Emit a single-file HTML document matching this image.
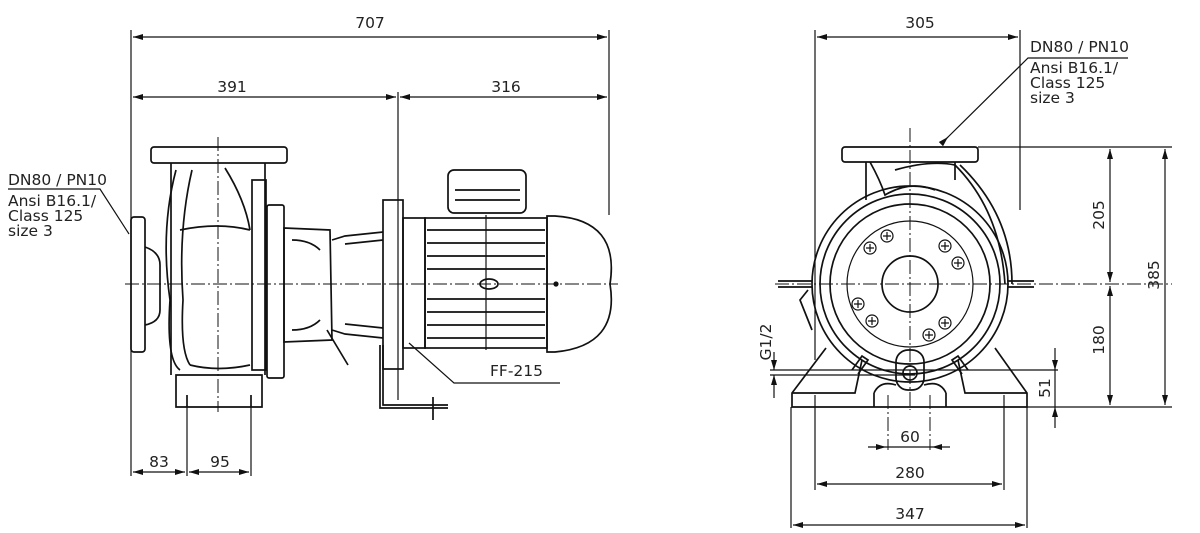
<!DOCTYPE html>
<html><head><meta charset="utf-8"><style>
html,body{margin:0;padding:0;background:#fff;}
svg{display:block}
text{font-family:"DejaVu Sans","Liberation Sans",sans-serif;font-size:15.5px;fill:#222}
</style></head><body>
<svg width="1200" height="533" viewBox="0 0 1200 533" xmlns="http://www.w3.org/2000/svg">
<defs>
<marker id="a" viewBox="0 0 10 6" refX="10" refY="3" markerWidth="14" markerHeight="6" markerUnits="userSpaceOnUse" orient="auto-start-reverse"><path d="M0,0L10,3L0,6z" fill="#111"/></marker>
</defs>
<g stroke="#111" stroke-width="1.2" fill="none">
<!-- LEFT VIEW dims -->
<line x1="131" y1="30" x2="131" y2="476"/>
<line x1="609" y1="30" x2="609" y2="215"/>
<line x1="398" y1="92" x2="398" y2="400"/>
<line x1="133" y1="37" x2="607" y2="37" marker-start="url(#a)" marker-end="url(#a)"/>
<line x1="133" y1="97" x2="396" y2="97" marker-start="url(#a)" marker-end="url(#a)"/>
<line x1="400" y1="97" x2="607" y2="97" marker-start="url(#a)" marker-end="url(#a)"/>
<line x1="187" y1="405" x2="187" y2="476"/>
<line x1="251" y1="405" x2="251" y2="476"/>
<line x1="133" y1="472" x2="185" y2="472" marker-start="url(#a)" marker-end="url(#a)"/>
<line x1="189" y1="472" x2="249" y2="472" marker-start="url(#a)" marker-end="url(#a)"/>
<line x1="125" y1="284" x2="618" y2="284" stroke-dasharray="14,3,2,3" stroke-width="1"/>
<line x1="218" y1="137" x2="218" y2="412" stroke-dasharray="14,3,2,3" stroke-width="1"/>
<g stroke-width="1.7">
<!-- pump -->
<rect x="151" y="147" width="136" height="16" rx="3"/>
<path d="M171,163 L171,375 M265,163 L265,375"/>
<path d="M176,170 Q160,230 170,300 Q166,360 180,370 M192,170 Q178,230 183,300 Q180,350 190,365"/>
<path d="M180,230 Q218,222 250,230 M190,365 Q218,372 250,365 M225,168 Q245,200 250,230"/>
<rect x="131" y="217" width="14" height="135" rx="3"/>
<path d="M145,247 Q160,252 160,265 L160,310 Q160,322 145,325"/>
<path d="M176,375 L262,375 L262,407 L176,407 Z"/>
<line x1="187" y1="395" x2="187" y2="407"/><line x1="251" y1="395" x2="251" y2="407"/>
<rect x="252" y="180" width="14" height="190"/>
<rect x="267" y="205" width="17" height="173" rx="2"/>
<path d="M284,228 L330,230 L332,340 L284,342 Z M292,240 Q310,240 320,250 M292,330 Q310,330 320,320"/>
<path d="M332,240 L345,236 L383,232 M332,330 L345,334 L383,338"/>
<path d="M345,244 L383,240 M345,324 L383,328"/>
<path d="M327,330 L348,365"/>
<rect x="383" y="200" width="20" height="169"/>
<path d="M383,345 L383,405 L448,405 M380,345 L380,408 L448,408"/>
<line x1="433" y1="397" x2="433" y2="420"/>
<rect x="403" y="218" width="22" height="130"/>
<!-- motor -->
<rect x="425" y="218" width="122" height="130"/>
<path d="M427,230h118M427,243h118M427,256h118M427,269h118M427,299h118M427,312h118M427,325h118M427,338h118"/>
<rect x="448" y="170" width="78" height="43" rx="6"/>
<path d="M455,200 L520,200 M455,190 L520,190"/>
<ellipse cx="489" cy="284" rx="9" ry="5"/>
<path d="M547,216 L555,216 Q620,220 610,284 Q620,346 555,352 L547,352 Z"/>
</g>
<line x1="486" y1="215" x2="486" y2="350"/>
<circle cx="556" cy="284" r="2" fill="#111"/>
<path d="M409,343 L454,383 L560,383"/>
<path d="M8,189 L100,189 L129,234"/>
<!-- RIGHT VIEW -->
<line x1="815" y1="30" x2="815" y2="360"/>
<line x1="1020" y1="30" x2="1020" y2="210"/>
<line x1="817" y1="37" x2="1018" y2="37" marker-start="url(#a)" marker-end="url(#a)"/>
<path d="M1128,58 L1028,58 L945,140"/>
<line x1="945" y1="140" x2="948" y2="137" marker-end="url(#a)"/>
<line x1="978" y1="147" x2="1172" y2="147"/>
<line x1="1027" y1="407" x2="1172" y2="407"/>
<line x1="1110" y1="149" x2="1110" y2="282" marker-start="url(#a)" marker-end="url(#a)"/>
<line x1="1110" y1="286" x2="1110" y2="405" marker-start="url(#a)" marker-end="url(#a)"/>
<line x1="1165" y1="149" x2="1165" y2="405" marker-start="url(#a)" marker-end="url(#a)"/>
<line x1="1055" y1="348" x2="1055" y2="370" marker-end="url(#a)"/>
<line x1="1055" y1="428" x2="1055" y2="407" marker-end="url(#a)"/>
<line x1="1055" y1="370" x2="1055" y2="407"/>
<line x1="770" y1="370" x2="1058" y2="370"/>
<line x1="770" y1="375" x2="915" y2="375"/>
<line x1="774" y1="352" x2="774" y2="370" marker-end="url(#a)"/>
<line x1="774" y1="398" x2="774" y2="375" marker-end="url(#a)"/>
<line x1="775" y1="284" x2="1172" y2="284" stroke-dasharray="14,3,2,3" stroke-width="1"/>
<line x1="910" y1="128" x2="910" y2="410" stroke-dasharray="14,3,2,3" stroke-width="1"/>
<g stroke-width="1.7">
<rect x="842" y="147" width="136" height="15" rx="3"/>
<path d="M866,162 L866,200 M955,162 L955,180"/>
<path d="M870,162 Q880,180 885,195 Q910,180 935,190 M895,170 Q930,160 955,165 Q1000,210 1005,284 M960,165 Q1012,215 1012,284"/>
<circle cx="910" cy="284" r="98"/>
<circle cx="910" cy="284" r="90"/>
<circle cx="910" cy="284" r="80"/>
<circle cx="910" cy="284" r="28"/>
<rect x="896" y="350" width="28" height="40" rx="12"/>
<circle cx="910" cy="373" r="7"/>
<path d="M778,287 L812,287 M778,281 L812,281 M1008,281 L1034,281 M1008,287 L1034,287"/>
<path d="M808,290 L800,300 L812,330"/>
<path d="M826,348 L792,393 L792,407 L1027,407 L1027,393 L995,348"/>
<path d="M792,393 L855,393 L862,360 M1027,393 L965,393 L958,360"/>
<path d="M874,393 L874,407 M946,393 L946,407 M874,393 Q880,380 896,385 M946,393 Q940,380 924,385"/>
<path d="M852,370 L862,356 L868,360 L858,374 M968,370 L958,356 L952,360 L962,374"/>
</g>
<circle cx="910" cy="284" r="63"/>
<g stroke-width="1.2">
<circle cx="887" cy="236" r="6"/><circle cx="870" cy="248" r="6"/><circle cx="945" cy="246" r="6"/><circle cx="958" cy="263" r="6"/>
<circle cx="858" cy="304" r="6"/><circle cx="872" cy="321" r="6"/><circle cx="945" cy="323" r="6"/><circle cx="929" cy="335" r="6"/>
<path d="M883,236h8M887,232v8M866,248h8M870,244v8M941,246h8M945,242v8M954,263h8M958,259v8M854,304h8M858,300v8M868,321h8M872,317v8M941,323h8M945,319v8M925,335h8M929,331v8"/>
</g>
<line x1="888" y1="395" x2="888" y2="450" stroke-dasharray="14,3,2,3" stroke-width="1"/>
<line x1="930" y1="395" x2="930" y2="450" stroke-dasharray="14,3,2,3" stroke-width="1"/>
<line x1="815" y1="395" x2="815" y2="490"/>
<line x1="1004" y1="395" x2="1004" y2="490"/>
<line x1="791" y1="407" x2="791" y2="528"/>
<line x1="1027" y1="407" x2="1027" y2="528"/>
<line x1="868" y1="447" x2="886" y2="447" marker-end="url(#a)"/>
<line x1="950" y1="447" x2="932" y2="447" marker-end="url(#a)"/>
<line x1="886" y1="447" x2="932" y2="447"/>
<line x1="817" y1="484" x2="1002" y2="484" marker-start="url(#a)" marker-end="url(#a)"/>
<line x1="793" y1="525" x2="1025" y2="525" marker-start="url(#a)" marker-end="url(#a)"/>
</g>
<text x="370" y="28" text-anchor="middle">707</text>
<text x="232" y="92" text-anchor="middle">391</text>
<text x="506" y="92" text-anchor="middle">316</text>
<text x="159" y="467" text-anchor="middle">83</text>
<text x="220" y="467" text-anchor="middle">95</text>
<text x="490" y="376">FF-215</text>
<text x="8" y="185">DN80 / PN10</text>
<text x="8" y="206">Ansi B16.1/</text>
<text x="8" y="221">Class 125</text>
<text x="8" y="236">size 3</text>
<text x="920" y="28" text-anchor="middle">305</text>
<text x="1030" y="52">DN80 / PN10</text>
<text x="1030" y="73">Ansi B16.1/</text>
<text x="1030" y="88">Class 125</text>
<text x="1030" y="103">size 3</text>
<text x="910" y="442" text-anchor="middle">60</text>
<text x="910" y="478" text-anchor="middle">280</text>
<text x="910" y="519" text-anchor="middle">347</text>
<text transform="translate(1104,215) rotate(-90)" text-anchor="middle">205</text>
<text transform="translate(1104,340) rotate(-90)" text-anchor="middle">180</text>
<text transform="translate(1159,275) rotate(-90)" text-anchor="middle">385</text>
<text transform="translate(1050,388) rotate(-90)" text-anchor="middle">51</text>
<text transform="translate(771,342) rotate(-90)" text-anchor="middle">G1/2</text>
</svg>
</body></html>
